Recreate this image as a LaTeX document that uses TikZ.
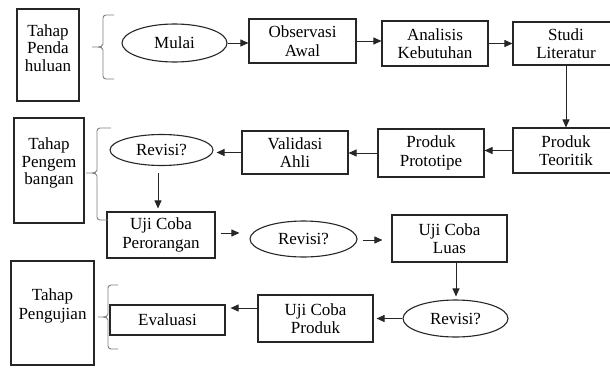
\documentclass[tikz,border=0pt]{standalone}
\usepackage{fontspec}
\setmainfont{Liberation Serif}
\usetikzlibrary{arrows.meta,shapes.geometric}
\begin{document}
\begin{tikzpicture}[x=1pt,y=-1pt,
  lbl/.style={font=\fontsize{17}{18.5}\selectfont},
  box/.style={lbl, draw=black!85, line width=1.1pt, align=center, inner sep=0pt},
  ell/.style={lbl, ellipse, draw=black!85, line width=1.1pt, inner sep=0pt},
  txt/.style={lbl, align=center, inner sep=0pt},
  arr/.style={-{Triangle[length=8pt,width=7pt]}, line width=0.9pt, draw=black!85},
  brc/.style={draw=black!50, line width=0.9pt}]
\useasboundingbox (0,0) rectangle (610,367);

% stage boxes
\node[box, minimum width=62pt, minimum height=92pt] (tp1) at (48,55) {};
\node[txt, font=\fontsize{17}{17.5}\selectfont] (tp1t) at (48,48) {Tahap\\Penda\\huluan};
\node[box, minimum width=70pt, minimum height=105pt] (tp2) at (49,170.5) {};
\node[txt, font=\fontsize{17}{17.5}\selectfont] (tp2t) at (49,163) {Tahap\\Pengem\\bangan};
\node[box, minimum width=83pt, minimum height=104pt] (tp3) at (52.5,313) {};
\node[txt, font=\fontsize{17}{19}\selectfont] (tp3t) at (52.5,306) {Tahap\\Pengujian};

% row 1
\node[ell, minimum width=105pt, minimum height=38pt] (mulai) at (174.5,43) {Mulai};
\node[box, minimum width=107pt, minimum height=44pt] (obs) at (302.5,41) {Observasi\\Awal};
\node[box, minimum width=106pt, minimum height=45pt] (ana) at (435,43.5) {Analisis\\Kebutuhan};
\node[box, minimum width=106pt, minimum height=43pt] (stu) at (566,43.5) {Studi\\Literatur};

% row 2
\node[box, minimum width=106pt, minimum height=45pt] (teo) at (566,150.5) {Produk\\Teoritik};
\node[box, minimum width=106pt, minimum height=48pt] (pro) at (431,153) {Produk\\Prototipe};
\node[box, minimum width=106pt, minimum height=43pt] (val) at (295,152.5) {Validasi\\Ahli};
\node[ell, minimum width=103pt, minimum height=31pt] (rev1) at (161.5,150) {Revisi?};

% row 3
\node[box, minimum width=108pt, minimum height=46pt] (per) at (161,235) {Uji Coba\\Perorangan};
\node[ell, minimum width=107pt, minimum height=36pt] (rev2) at (303.5,239) {Revisi?};
\node[box, minimum width=115pt, minimum height=47pt] (luas) at (449.5,238.5) {Uji Coba\\Luas};

% row 4
\node[ell, minimum width=105pt, minimum height=37pt] (rev3) at (455.5,318.5) {Revisi?};
\node[box, minimum width=115pt, minimum height=47pt] (upr) at (315.5,318.5) {Uji Coba\\Produk};
\node[box, minimum width=115pt, minimum height=30pt] (eva) at (167.5,320) {Evaluasi};

% connectors
\draw[arr] (mulai.east) -- (mulai.east -| obs.west);
\draw[arr] (obs.east) -- (obs.east -| ana.west);
\draw[arr] (ana.east) -- (ana.east -| stu.west);
\draw[arr] (stu.south) -- (teo.north);
\draw[arr] (teo.west) -- (teo.west -| pro.east);
\draw[arr] (pro.west) -- (pro.west -| val.east);
\draw[arr, shorten >=3pt] (val.west) -- (val.west -| rev1.east);
\draw[arr, shorten <=7pt, shorten >=3pt] ([xshift=-3.5pt]rev1.south) -- ([xshift=-3.5pt]rev1.south |- per.north);
\draw[arr, shorten <=5pt, shorten >=10pt] ([yshift=2pt]per.east) -- ([yshift=2pt]per.east -| rev2.west);
\draw[arr, shorten <=5pt, shorten >=9pt] ([yshift=-1pt]rev2.east) -- ([yshift=-1pt]rev2.east -| luas.west);
\draw[arr, shorten >=3pt] ([xshift=6.5pt]luas.south) -- ([xshift=6.5pt]luas.south |- rev3.north);
\draw[arr, shorten >=3pt] (rev3.west) -- (rev3.west -| upr.east);
\draw[arr, shorten >=5pt] ([yshift=10.5pt]upr.west) -- ([yshift=10.5pt]upr.west -| eva.east);

% braces
\draw[brc] (114,15) -- (106,15) to[out=180,in=90] (103,18) -- (103,44) to[out=270,in=0] (98,47) -- (92,47)
  (98,47) to[out=0,in=90] (103,50) -- (103,76) to[out=270,in=180] (106,79) -- (114,79);
\draw[brc] (111,128) -- (100,128) to[out=180,in=90] (97,131) -- (97,170) to[out=270,in=0] (92,173) -- (86,173)
  (92,173) to[out=0,in=90] (97,176) -- (97,217) to[out=270,in=180] (100,220) -- (108,220);
\draw[brc] (118,285) -- (111,285) to[out=180,in=90] (108,288) -- (108,314) to[out=270,in=0] (103,317) -- (98,317)
  (103,317) to[out=0,in=90] (108,320) -- (108,346) to[out=270,in=180] (111,349) -- (118,349);
\end{tikzpicture}
\end{document}
